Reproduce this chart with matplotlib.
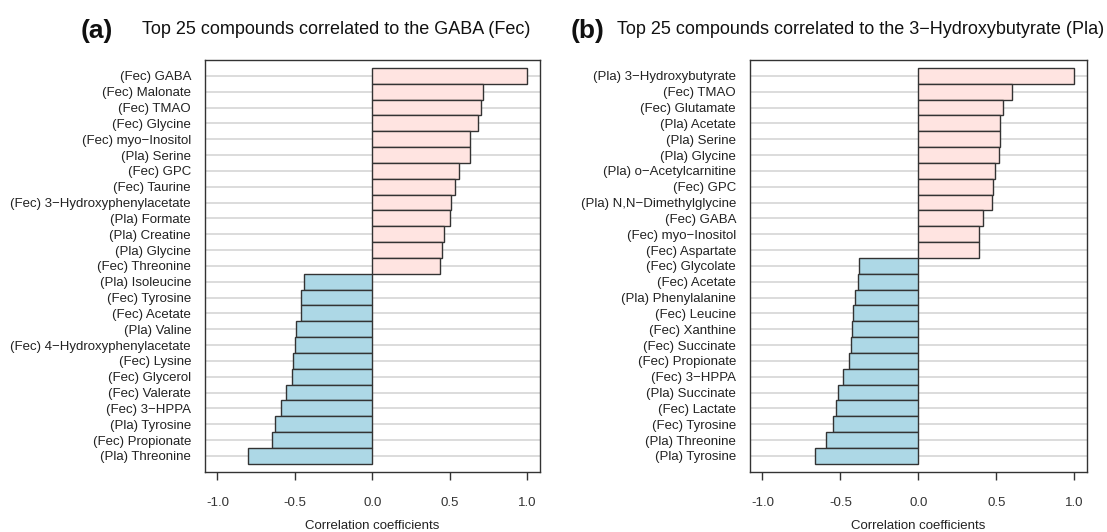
import matplotlib
matplotlib.use("Agg")
import matplotlib.pyplot as plt

plt.rcParams['font.family'] = ['Liberation Sans', 'DejaVu Sans']

M = "\u2212"

labels_a = ["(Fec) GABA", "(Fec) Malonate", "(Fec) TMAO", "(Fec) Glycine",
            f"(Fec) myo{M}Inositol", "(Pla) Serine", "(Fec) GPC", "(Fec) Taurine",
            f"(Fec) 3{M}Hydroxyphenylacetate", "(Pla) Formate", "(Pla) Creatine",
            "(Pla) Glycine", "(Fec) Threonine", "(Pla) Isoleucine", "(Fec) Tyrosine",
            "(Fec) Acetate", "(Pla) Valine", f"(Fec) 4{M}Hydroxyphenylacetate",
            "(Fec) Lysine", "(Fec) Glycerol", "(Fec) Valerate", f"(Fec) 3{M}HPPA",
            "(Pla) Tyrosine", "(Fec) Propionate", "(Pla) Threonine"]
values_a = [1.00, 0.717, 0.699, 0.679, 0.631, 0.627, 0.559, 0.534, 0.507, 0.502,
            0.464, 0.450, 0.434, -0.441, -0.460, -0.462, -0.494, -0.502, -0.512,
            -0.521, -0.555, -0.587, -0.629, -0.648, -0.804]

labels_b = [f"(Pla) 3{M}Hydroxybutyrate", "(Fec) TMAO", "(Fec) Glutamate",
            "(Pla) Acetate", "(Pla) Serine", "(Pla) Glycine",
            f"(Pla) o{M}Acetylcarnitine", "(Fec) GPC", f"(Pla) N,N{M}Dimethylglycine",
            "(Fec) GABA", f"(Fec) myo{M}Inositol", "(Fec) Aspartate", "(Fec) Glycolate",
            "(Fec) Acetate", "(Pla) Phenylalanine", "(Fec) Leucine", "(Fec) Xanthine",
            "(Fec) Succinate", "(Fec) Propionate", f"(Fec) 3{M}HPPA", "(Pla) Succinate",
            "(Fec) Lactate", "(Fec) Tyrosine", "(Pla) Threonine", "(Pla) Tyrosine"]
values_b = [1.00, 0.599, 0.545, 0.524, 0.522, 0.518, 0.493, 0.479, 0.470, 0.415,
            0.388, 0.387, -0.381, -0.390, -0.408, -0.422, -0.426, -0.431, -0.442,
            -0.481, -0.515, -0.527, -0.547, -0.593, -0.661]

panel_tags = ["(a)", "(b)"]
titles = ["Top 25 compounds correlated to the GABA (Fec)",
          f"Top 25 compounds correlated to the 3{M}Hydroxybutyrate (Pla)"]
xticks = [-1.0, -0.5, 0.0, 0.5, 1.0]
xlabel = "Correlation coefficients"

POS = "#FFE4E1"
NEG = "#ADD8E6"
EDGE = "#333333"
TXT = "#222222"

fig = plt.figure(figsize=(11.07, 5.32), dpi=100)
axes_rects = [[205/1107, 1-471.7/532, 334.7/1107, 411.7/532],
              [750/1107, 1-471.7/532, 336.7/1107, 411.7/532]]
tag_x = [81.0/1107, 571.0/1107]
title_x = [141.7/1107, 617.3/1107]

for i, (labels, values) in enumerate([(labels_a, values_a), (labels_b, values_b)]):
    ax = fig.add_axes(axes_rects[i])
    n = len(values)
    ypos = list(range(n))
    for y in ypos:
        ax.axhline(y, color="#d9d9d9", lw=1.3, zorder=0)
    colors = [POS if v > 0 else NEG for v in values]
    ax.barh(ypos, values, height=1.0, color=colors, edgecolor=EDGE, linewidth=1.0, zorder=2)
    ax.set_xlim(-1.08, 1.08)
    ax.set_ylim(n, -1)
    ax.set_yticks(ypos)
    ax.set_yticklabels(labels, fontsize=9.5, color=TXT)
    ax.tick_params(axis='y', length=0, pad=10)
    ax.set_xticks(xticks)
    ax.set_xticklabels([f"{t:.1f}" for t in xticks], fontsize=9.5, color="#333333")
    ax.tick_params(axis='x', direction='out', length=6, width=1.0, color="#333333", pad=12)
    ax.set_xlabel(xlabel, fontsize=9.5, color=TXT, labelpad=8)
    for s in ax.spines.values():
        s.set_color("#333333")
        s.set_linewidth(1.0)
    fig.text(tag_x[i], 1-31/532, panel_tags[i], fontsize=19, fontweight='bold',
             va='center', ha='left', color="#111111")
    fig.text(title_x[i], 1-30/532, titles[i], fontsize=13, va='center', ha='left',
             color="#111111")

fig.savefig("out.png", dpi=100)
